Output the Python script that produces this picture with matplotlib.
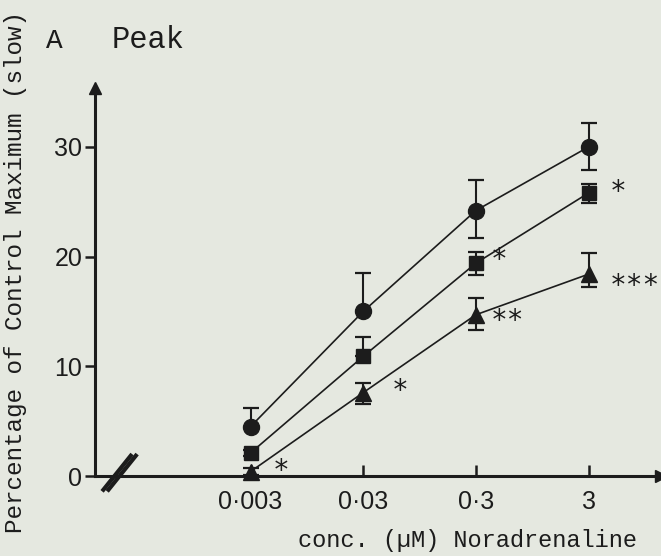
import numpy as np
import matplotlib
matplotlib.use("Agg")
import matplotlib.pyplot as plt
from matplotlib.ticker import NullLocator

# noradrenaline concentrations (uM) and responses (% of control maximum)
conc = [0.003, 0.03, 0.3, 3]
conc_labels = ["0·003", "0·03", "0·3", "3"]

circle_mean = [4.5, 15.0, 24.2, 30.0]
circle_err_hi = [1.7, 3.5, 2.8, 2.2]
circle_err_lo = [0.0, 0.0, 2.5, 2.1]

square_mean = [2.1, 10.9, 19.4, 25.8]
square_err_hi = [0.3, 1.8, 1.0, 0.8]
square_err_lo = [0.3, 0.0, 1.1, 0.9]

triangle_mean = [0.4, 7.6, 14.7, 18.4]
triangle_err_hi = [0.3, 0.9, 1.5, 1.9]
triangle_err_lo = [0.3, 1.0, 1.4, 1.2]

# significance marks: (series, index, text, dx px, dy px of the star centre)
stars = [
    ("square", 3, "*", 21, 9),
    ("square", 2, "*", 15, 11),
    ("triangle", 3, "***", 21, -4),
    ("triangle", 2, "**", 15, 2),
    ("triangle", 1, "*", 29, 10),
    ("triangle", 0, "*", 22, 9),
]

bg = "#e5e8e0"
ink = "#1c1c1c"
mono = ["Liberation Mono", "DejaVu Sans Mono"]
plt.rcParams["font.family"] = ["Liberation Sans", "DejaVu Sans"]

fig = plt.figure(figsize=(6.61, 5.56), dpi=100, facecolor=bg)
ax = fig.add_axes([95 / 661, 80 / 556, 566 / 661, 388 / 556])
ax.set_facecolor(bg)

ax.set_xscale("log")
ax.set_xlim(10 ** -3.903, 10 ** 1.12)
ax.set_ylim(0, 35.37)

for s in ("top", "right"):
    ax.spines[s].set_visible(False)
for s in ("left", "bottom"):
    ax.spines[s].set_linewidth(2.2)
    ax.spines[s].set_color(ink)

# arrow heads on both axes
ax.plot([1], [0], marker=">", ms=9, color=ink, transform=ax.transAxes, clip_on=False)
ax.plot([0], [1], marker="^", ms=9, color=ink, transform=ax.transAxes, clip_on=False)

ax.set_yticks([0, 10, 20, 30])
ax.tick_params(axis="y", direction="out", length=7, width=1.8, pad=2,
               labelsize=18, colors=ink)
ax.set_xticks(conc)
ax.set_xticklabels(conc_labels)
ax.xaxis.set_minor_locator(NullLocator())
ax.tick_params(axis="x", direction="in", length=8, width=1.8, pad=10,
               labelsize=18, colors=ink)

series = {
    "circle": (circle_mean, circle_err_lo, circle_err_hi, "o", 11.5),
    "square": (square_mean, square_err_lo, square_err_hi, "s", 10),
    "triangle": (triangle_mean, triangle_err_lo, triangle_err_hi, "^", 11),
}
for name, (mean, lo, hi, mk, ms) in series.items():
    ax.errorbar(conc, mean, yerr=[lo, hi], fmt="-", marker=mk, ms=ms,
                color=ink, lw=1.2, elinewidth=1.5, capsize=6, capthick=1.6,
                clip_on=False, zorder=3)

# px -> pt at 100 dpi; the asterisk sits ~16 px above its baseline
for name, idx, txt, dx, dy in stars:
    mean = series[name][0]
    ax.annotate(txt, xy=(conc[idx], mean[idx]),
                xytext=(dx * 0.72, (dy - 16) * 0.72),
                textcoords="offset points", ha="left", va="baseline",
                family=["DejaVu Sans Mono"], fontsize=20, color=ink,
                annotation_clip=False)

# axis break on the concentration axis
bx = np.array([10 ** -3.84, 10 ** -3.574])
by = np.array([-1.4, 2.0])
for shift in (0.0, 0.045):
    ax.plot(bx * 10 ** shift, by, color=ink, lw=3.0, clip_on=False,
            solid_capstyle="butt")

ax.set_ylabel("Percentage of Control Maximum (slow)", family=mono,
              fontsize=17.5, color=ink)
ax.yaxis.set_label_coords(-0.12, 0.525)
ax.set_xlabel("conc. (\u00b5M) Noradrenaline", family=mono, fontsize=17,
              color=ink)
ax.xaxis.set_label_coords(0.659, -0.136)

fig.text(46 / 661, 1 - 48 / 556, "A", family=mono, fontsize=20, color=ink,
         va="baseline")
fig.text(112 / 661, 1 - 48 / 556, "Peak", family=mono, fontsize=22,
         color=ink, va="baseline")

fig.savefig("out.png", dpi=100, facecolor=bg)
